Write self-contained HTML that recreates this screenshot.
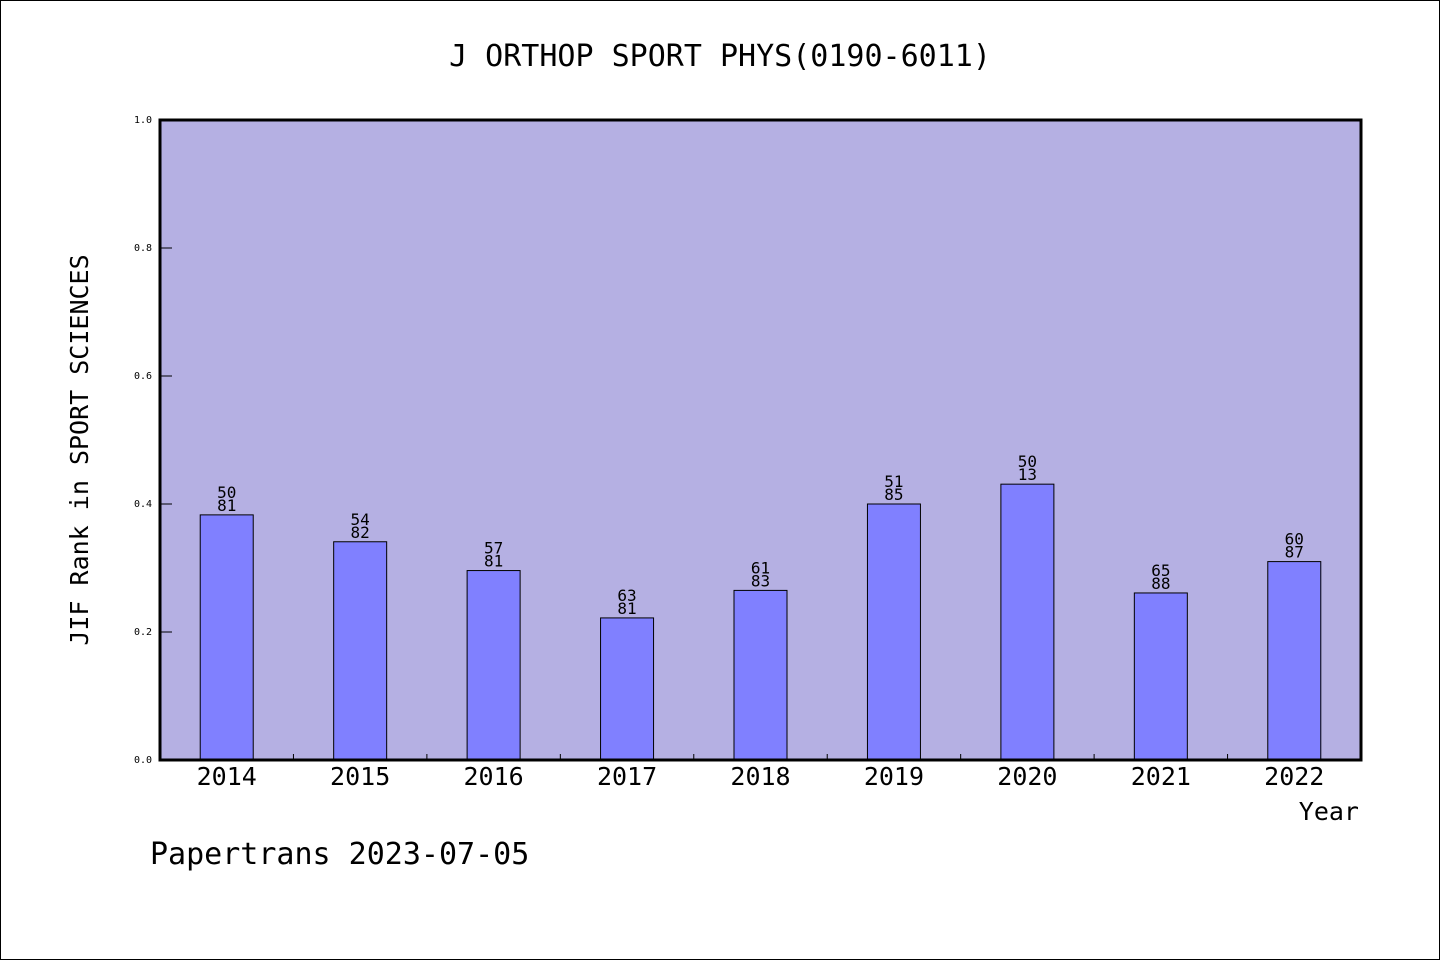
<!DOCTYPE html>
<html><head><meta charset="utf-8"><style>
body{margin:0;background:#fff}
svg{display:block;font-family:"DejaVu Sans Mono","Liberation Mono",monospace}
</style></head><body>
<svg id="chart" width="1440" height="960" viewBox="0 0 1440 960" xmlns="http://www.w3.org/2000/svg">
<rect x="0.5" y="0.5" width="1439" height="959" fill="#fff" stroke="#000"/>
<text x="720" y="66" font-size="30" text-anchor="middle">J ORTHOP SPORT PHYS(0190-6011)</text>
<rect x="160" y="120" width="1201" height="640" fill="#b5b0e3"/>
<g id="bars"></g>
<g id="axes"></g>
<rect x="160" y="120" width="1201" height="640" fill="none" stroke="#000" stroke-width="3"/>
<text transform="translate(88,450) rotate(-90)" font-size="25" text-anchor="middle">JIF Rank in SPORT SCIENCES</text>
<text x="1359" y="820" font-size="25" text-anchor="end">Year</text>
<text x="150" y="864" font-size="30">Papertrans 2023-07-05</text>
</svg>
<script>
const categories=["2014","2015","2016","2017","2018","2019","2020","2021","2022"];
const values=[0.383,0.341,0.296,0.222,0.265,0.400,0.431,0.261,0.310];
const labelTop=["50","54","57","63","61","51","50","65","60"];
const labelBottom=["81","82","81","81","83","85","13","88","87"];
const yTicks=[0,0.2,0.4,0.6,0.8,1.0];
const X0=160,W=1201,Y0=760,H=640;
const band=W/categories.length;
const xc=i=>X0+band*(i+0.5);
const y=v=>Y0-v*H;
const ns="http://www.w3.org/2000/svg";
function mk(t,a,p){const e=document.createElementNS(ns,t);for(const k in a)e.setAttribute(k,a[k]);p.appendChild(e);return e;}
const bars=document.getElementById('bars'),axes=document.getElementById('axes');
categories.forEach((c,i)=>{
 const r=mk('rect',{x:xc(i)-26.5,y:y(values[i]),width:53,height:values[i]*H,fill:'#8080ff',stroke:'#000','stroke-width':1},bars);
 
 
 const t1=mk('text',{x:xc(i),y:y(values[i])-17,'font-size':16,'text-anchor':'middle'},bars);t1.textContent=labelTop[i];
 
 
 const t2=mk('text',{x:xc(i),y:y(values[i])-4,'font-size':16,'text-anchor':'middle'},bars);t2.textContent=labelBottom[i];
 
 
 const xl=mk('text',{x:xc(i),y:785,'font-size':25,'text-anchor':'middle'},axes);xl.textContent=c;
 
 
 if(i>0){const tk=mk('line',{x1:X0+band*i,x2:X0+band*i,y1:Y0,y2:Y0-6,stroke:'#000'},axes);
 
 }
});
yTicks.forEach(v=>{
 const l=mk('line',{x1:X0,x2:X0+12,y1:y(v),y2:y(v),stroke:'#000'},axes);
 
 
 const t=mk('text',{x:152,y:y(v)+3,'font-size':10,'text-anchor':'end',fill:'#000'},axes);t.textContent=v.toFixed(1);
 
 
});
</script>
</body></html>
